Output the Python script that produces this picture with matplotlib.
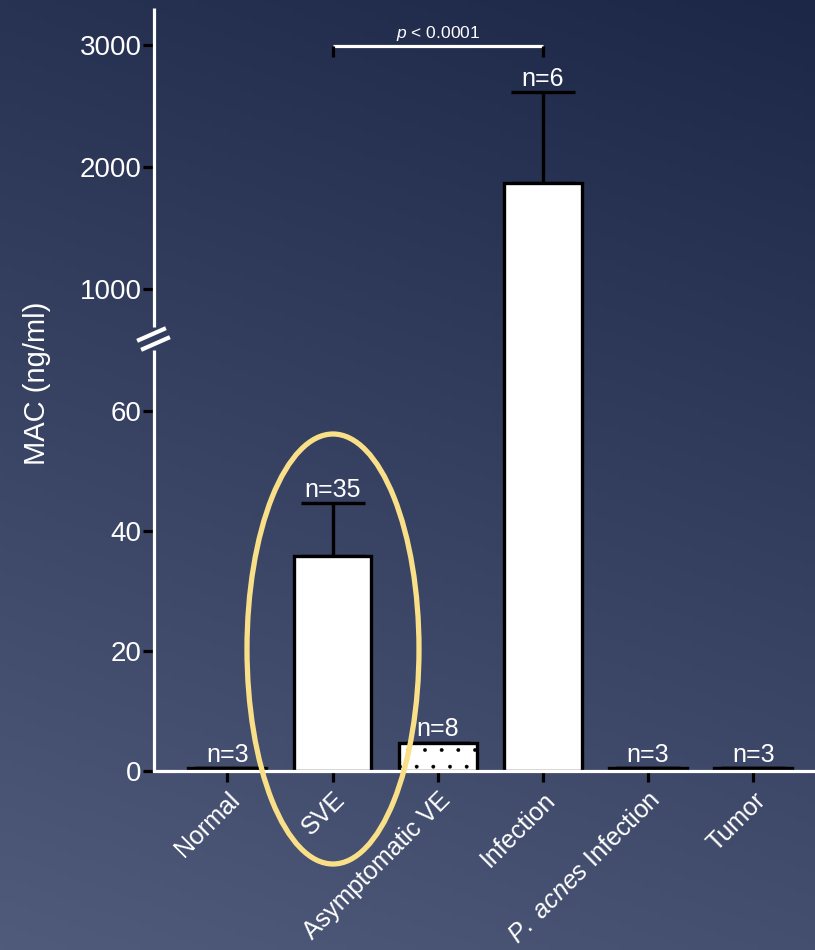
import numpy as np
import matplotlib
matplotlib.use('Agg')
import matplotlib.pyplot as plt
from matplotlib.patches import Ellipse
from matplotlib.lines import Line2D

plt.rcParams['font.family'] = ['Liberation Sans', 'DejaVu Sans']
plt.rcParams['mathtext.fontset'] = 'custom'
plt.rcParams['mathtext.rm'] = 'Liberation Sans'
plt.rcParams['mathtext.it'] = 'Liberation Sans:italic'
plt.rcParams['hatch.linewidth'] = 0.3
plt.rcParams['hatch.color'] = '#444444'

# data
groups = ['Normal', 'SVE', 'Asymptomatic VE', 'Infection',
          r'$\mathit{P.\ acnes}$ Infection', 'Tumor']
means = [0.5, 35.8, 4.7, 1870, 0.5, 0.5]
sem = [0, 8.9, 0, 745, 0, 0]
n_labels = ['n=3', 'n=35', 'n=8', 'n=6', 'n=3', 'n=3']
hatches = [None, None, '.', None, None, None]
y_ticks = [0, 20, 40, 60, 1000, 2000, 3000]
p_text = r'$p$ < 0.0001'

# broken axis: piecewise linear y mapping (data -> screen pixels)
seg_data = [0, 70.2, 689, 3303]
seg_pix = [0, 421, 444, 763]

def fwd(y):
    return np.interp(y, seg_data, seg_pix)

def inv(p):
    return np.interp(p, seg_pix, seg_data)

W, H = 815, 950
fig = plt.figure(figsize=(W / 100, H / 100), dpi=100)

# background gradient
bg = fig.add_axes([0, 0, 1, 1], zorder=-10)
yy, xx = np.mgrid[0:1:200j, 0:1:200j]
t = 0.85 * yy + 0.25 * (1 - xx)
t = np.clip(t / t.max(), 0, 1)
top = np.array([0x1c, 0x26, 0x47]) / 255
bot = np.array([0x50, 0x5a, 0x7a]) / 255
img = top[None, None, :] * (1 - t[..., None]) + bot[None, None, :] * t[..., None]
bg.imshow(img, origin='upper', extent=(0, 1, 0, 1), aspect='auto')
bg.axis('off')

ax = fig.add_axes([154 / W, (H - 771) / H, (W - 154) / W, 763 / H])
ax.patch.set_alpha(0)
ax.set_yscale('function', functions=(fwd, inv))
ax.set_ylim(0, 3303)
x = np.arange(len(groups))
step = 105.2
ax.set_xlim(-(227.3 - 154) / step, (815 - 227.3) / step)

ax.bar(x, means, width=0.74, color='white', edgecolor='black', linewidth=2.4,
       hatch=hatches, zorder=2)
ax.errorbar(x, means, yerr=[np.zeros(len(sem)), sem], fmt='none', ecolor='black',
            elinewidth=2.4, capsize=23, capthick=2.4, zorder=1.5)

for xi, m, s, lab in zip(x, means, sem, n_labels):
    ax.annotate(lab, (xi, m + s), xytext=(0, 1), textcoords='offset points',
                ha='center', va='bottom', color='white', fontsize=18)

# p-value bracket between SVE and Infection
ax.plot([1, 3], [2992, 2992], color='white', lw=2.3, solid_capstyle='butt')
ax.plot([1, 1], [2992, 2900], color='black', lw=2.3, solid_capstyle='butt')
ax.plot([3, 3], [2992, 2900], color='black', lw=2.3, solid_capstyle='butt')
ax.text(2, 3020, p_text, ha='center', va='bottom', color='white', fontsize=12.5)

# spines
for s in ['top', 'right', 'left']:
    ax.spines[s].set_visible(False)
ax.spines['bottom'].set_color('white')
ax.spines['bottom'].set_linewidth(2.3)
ytr = ax.get_yaxis_transform()
ax.plot([0, 0], [0, 70.2], color='white', lw=2.3, transform=ytr, clip_on=False,
        solid_capstyle='butt')
ax.plot([0, 0], [689, 3303], color='white', lw=2.3, transform=ytr, clip_on=False,
        solid_capstyle='butt')
for (x0, y0, x1, y1) in [(139, 340, 164, 329), (143, 349, 168, 338)]:
    fig.add_artist(Line2D([x0 / W, x1 / W], [1 - y0 / H, 1 - y1 / H],
                          color='white', lw=3, transform=fig.transFigure))

ax.set_yticks(y_ticks)
ax.set_yticklabels([str(v) for v in y_ticks])
ax.set_xticks(x)
ax.set_xticklabels(groups, rotation=45, ha='right', va='top', rotation_mode='anchor')
ax.tick_params(axis='both', colors='black', length=8, width=2.3, labelcolor='white',
               labelsize=20)
ax.tick_params(axis='x', labelsize=18, pad=4)
ax.tick_params(axis='y', pad=1)
ax.minorticks_off()

fig.text(37 / W, 1 - 383 / H, 'MAC (ng/ml)', rotation=90, ha='center', va='center',
         color='white', fontsize=21)

# highlight ellipse round SVE
fig.add_artist(Ellipse((333 / W, 1 - 649 / H), 172 / W, 430 / H, fill=False,
                       edgecolor='#f8df88', lw=3.8, transform=fig.transFigure,
                       zorder=5))

fig.savefig('out.png', dpi=100)
